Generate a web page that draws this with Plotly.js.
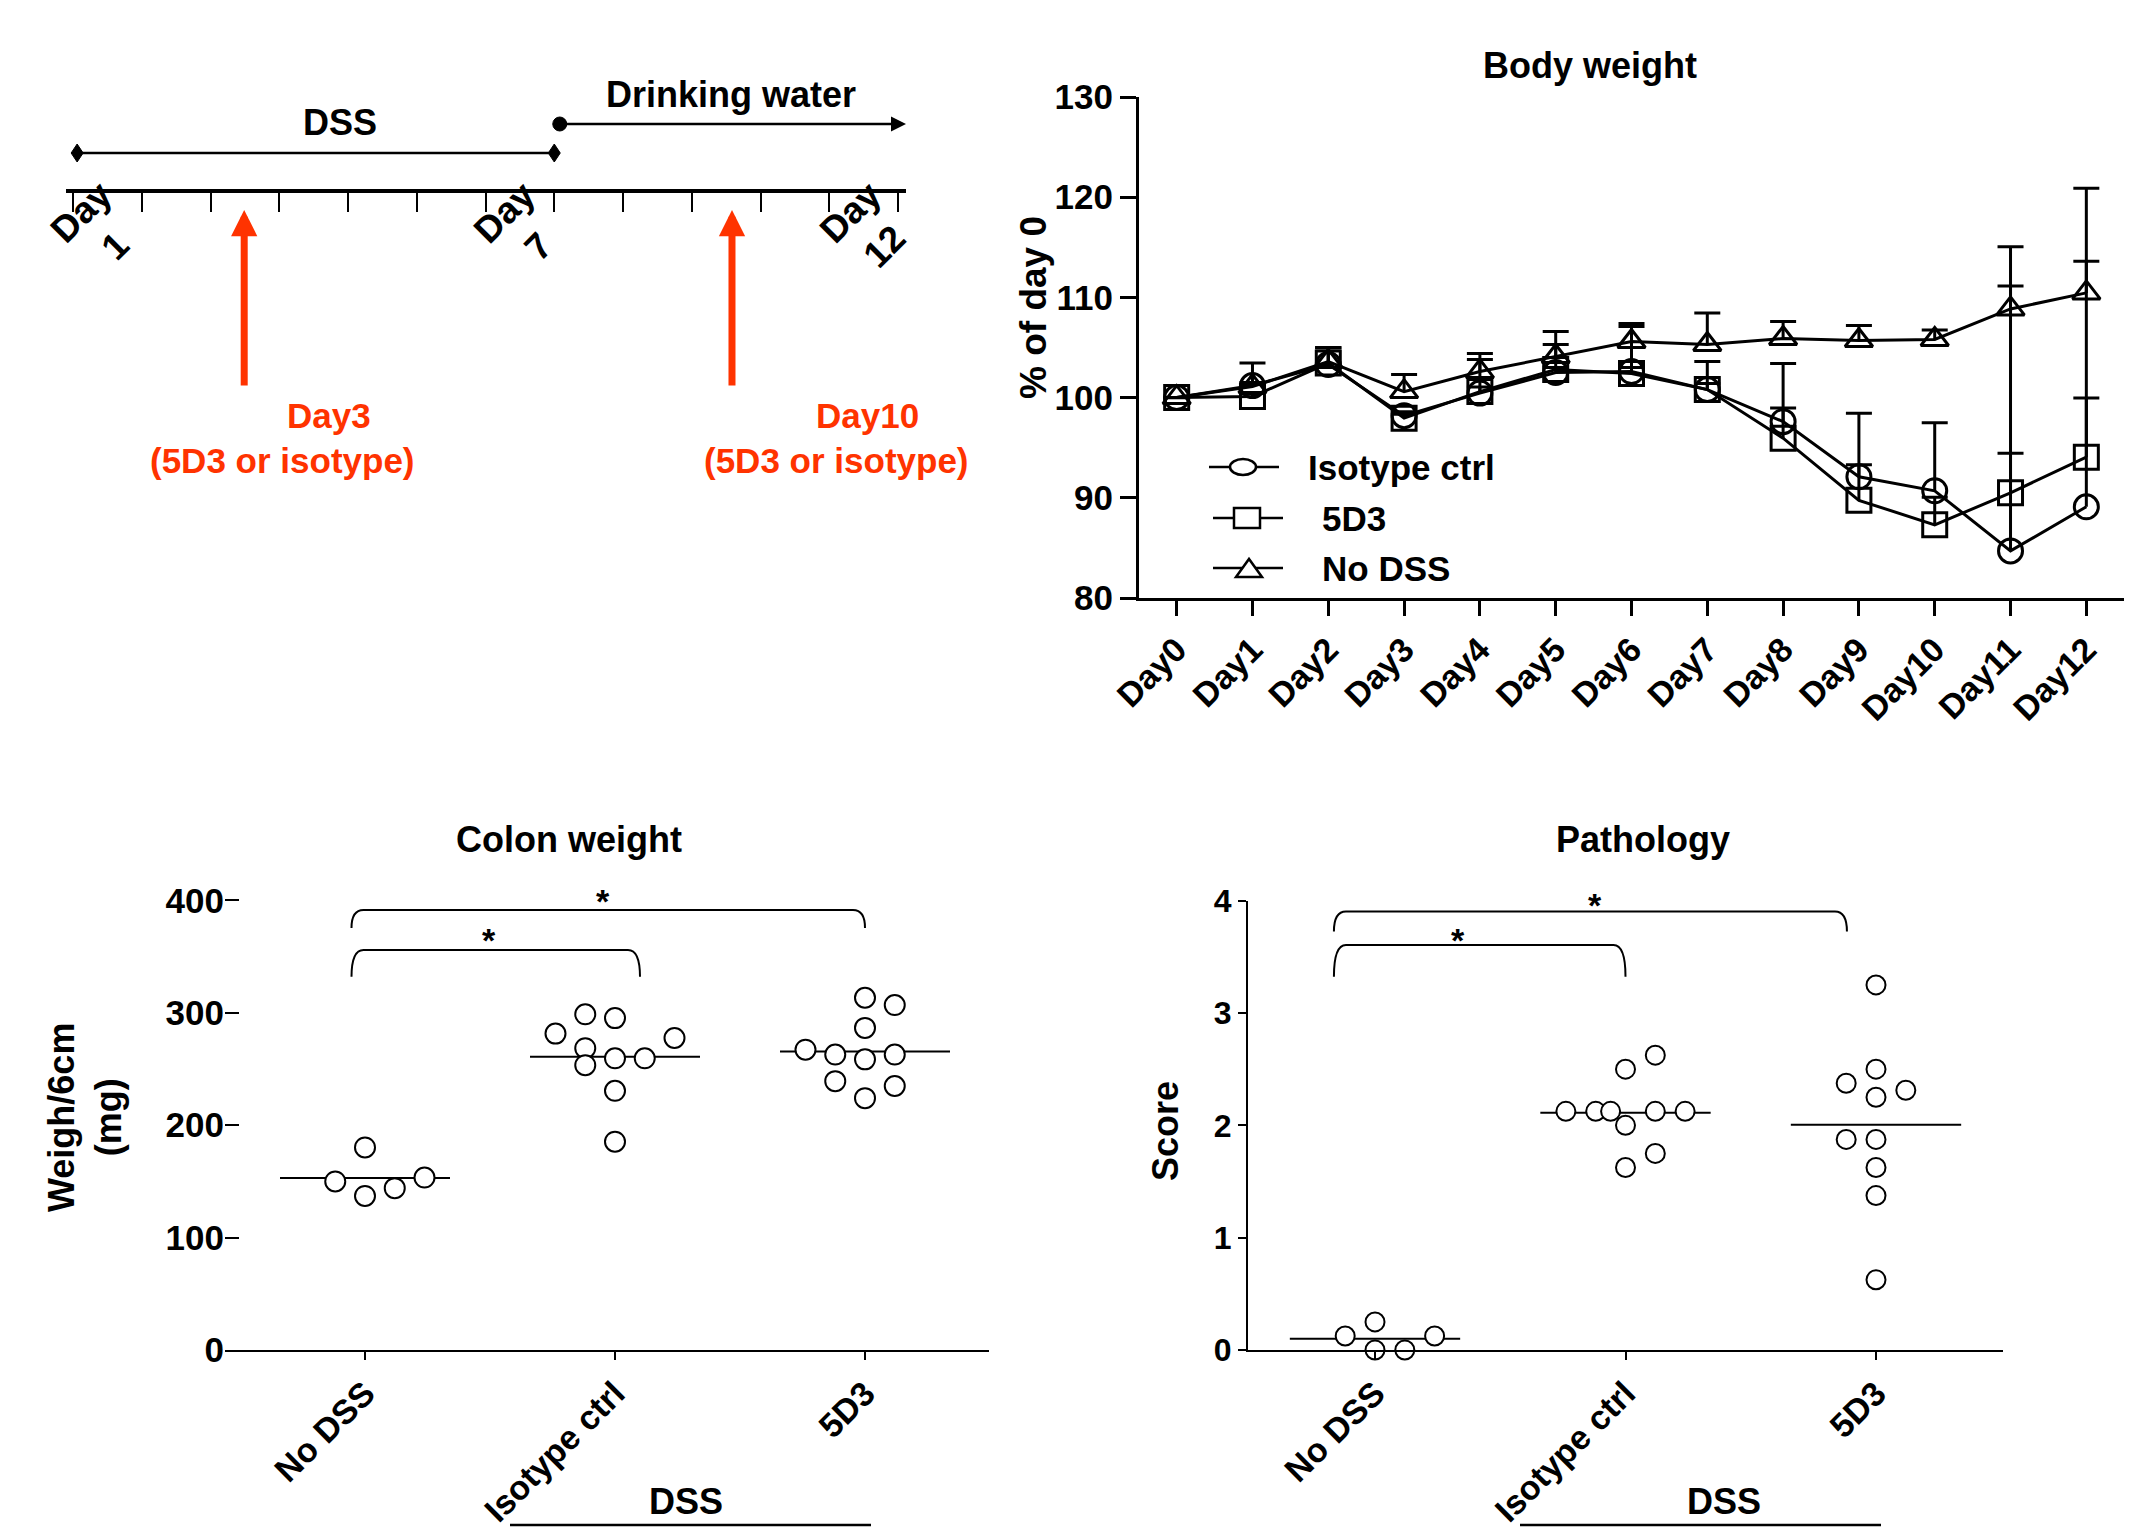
<!DOCTYPE html>
<html><head><meta charset="utf-8">
<script src="https://cdn.plot.ly/plotly-3.0.1.min.js"></script>
<style>html,body{margin:0;padding:0;background:#fff}#chart{width:2149px;height:1537px}</style>
</head><body><div id="chart"></div>
<script>
// ================= DATA =================
// Body weight (% of day 0), mean and upper error
const days = ['Day0','Day1','Day2','Day3','Day4','Day5','Day6','Day7','Day8','Day9','Day10','Day11','Day12'];
const bwIsotype    = [100, 101.2, 103.3, 98.2, 100.45, 102.5, 102.6, 100.8, 97.6, 92.1, 90.7, 84.7, 89.1];
const bwIsotypeErr = [NaN, 2.25, 1.7, 0.4, 0.6, 0.5, 4.5, 2.8, 5.8, 6.35, 6.8, 30.35, 31.8];
const bw5D3        = [100, 100.1, 103.45, 97.95, 100.6, 102.8, 102.4, 100.8, 95.95, 89.75, 87.3, 90.5, 94.05];
const bw5D3Err     = [NaN, 0.3, 1.5, 0.4, 3.2, 2.5, 0.6, 0.6, 3.0, 3.55, 2.75, 3.95, 5.9];
const bwNoDss      = [100, 101.1, 103.6, 100.6, 102.6, 104.1, 105.6, 105.3, 105.9, 105.7, 105.8, 108.85, 110.45];
const bwNoDssErr   = [NaN, 0.4, 1.4, 1.7, 1.8, 2.5, 1.8, 3.15, 1.7, 1.5, 0.95, 2.3, 3.15];
const bwTicks = [80, 90, 100, 110, 120, 130];

// Scatter panels
const groups = ['No DSS', 'Isotype ctrl', '5D3'];
const colonNoDss   = [150.0, 180.2, 137.1, 144.0, 153.4];
const colonIsotype = [281.5, 298.7, 295.3, 277.6, 268.5, 259.5, 259.5, 253.4, 230.6, 185.3];
const colon5D3     = [313.4, 306.9, 286.6, 267.2, 262.9, 258.6, 262.9, 239.2, 234.9, 224.1];
const colonTicks = [0, 100, 200, 300, 400];
const pathNoDss    = [0.125, 0.25, 0, 0, 0.125];
const pathIsotype  = [2.125, 2.125, 2.125, 2.125, 2.125, 2.0, 2.5, 2.625, 1.75, 1.625];
const path5D3      = [3.25, 2.5, 2.375, 2.3125, 2.25, 1.875, 1.875, 1.625, 1.375, 0.625];
const pathTicks = [0, 1, 2, 3, 4];

// Timeline
const timelineTicks = [0,1,2,3,4,5,6,7,8,9,10,11,12];
const timelineDayLabels = ['Day<br>1', 'Day<br>7', 'Day<br>12'];
const doseLabels = ['Day3', 'Day10'];
const doseSub = '(5D3 or isotype)';

// ================= LAYOUT HELPERS =================
const W = 2149, H = 1537;
const X = p => p / W, Y = p => 1 - p / H;
const FAM = 'Liberation Sans, Arial, Helvetica, sans-serif';
const fnt = (size, color) => ({family: FAM, size: size, color: color || '#000', weight: 'bold'});
const RED = '#FF3300';

// beeswarm slots (horizontal placement only)
const SLOT = 0.119;
const colonSlots = [[-1,0,0,1,2], [-2,-1,0,2,-1,0,1,-1,0,0], [0,1,0,-2,-1,0,1,-1,1,0]];
const pathSlots  = [[-1,0,0,1,2], [-2,-1,-0.5,1,2,0,0,1,1,0], [0,0,-1,1,0,-1,0,0,0,0]];

const bwDom  = {x: [1139, 2124], y: [97, 598]},   bwXR = [-0.497, 12.497], bwYR = [80, 130];
const colDom = {x: [225, 989],   y: [899.3, 1350]}, colXR = [-0.56, 2.496], colYR = [0, 401];
const patDom = {x: [1248, 2003], y: [900.7, 1350]}, patXR = [-0.507, 2.507], patYR = [0, 4];
const tlDom  = {x: [66, 906]}, tlXR = [-0.102, 12.116];

const mapX = (d, r, v) => d.x[0] + (v - r[0]) / (r[1] - r[0]) * (d.x[1] - d.x[0]);
const mapY = (d, r, v) => d.y[1] - (v - r[0]) / (r[1] - r[0]) * (d.y[1] - d.y[0]);
const mean = a => a.reduce((s, v) => s + v, 0) / a.length;

// ================= TRACES =================
const traces = [];
function bwTrace(name, y, err, symbol) {
  return {
    x: days, y: y, name: name, type: 'scatter', mode: 'lines+markers',
    xaxis: 'x', yaxis: 'y', cliponaxis: false,
    line: {color: '#000', width: 3},
    marker: {symbol: symbol, size: 24, color: '#000', line: {color: '#000', width: 3}},
    error_y: {type: 'data', symmetric: false, array: err, arrayminus: err.map(() => 0),
              color: '#000', thickness: 3, width: 13},
    hoverinfo: 'x+y+name'
  };
}
traces.push(bwTrace('No DSS', bwNoDss, bwNoDssErr, 'triangle-up-open'));
traces.push(bwTrace('5D3', bw5D3, bw5D3Err, 'square-open'));
traces.push(bwTrace('Isotype ctrl', bwIsotype, bwIsotypeErr, 'circle-open'));

function scatterPanel(sets, slots, xa, ya, msize) {
  sets.forEach((vals, g) => {
    const m = mean(vals);
    traces.push({x: [g - 0.34, g + 0.34], y: [m, m], xaxis: xa, yaxis: ya, type: 'scatter',
                 mode: 'lines', line: {color: '#000', width: 2}, hoverinfo: 'y', showlegend: false});
    traces.push({x: vals.map((v, i) => g + slots[g][i] * SLOT), y: vals, xaxis: xa, yaxis: ya,
                 type: 'scatter', mode: 'markers', cliponaxis: false, name: groups[g],
                 marker: {symbol: 'circle', size: msize, color: '#fff', line: {color: '#000', width: 2}}});
  });
}
scatterPanel([colonNoDss, colonIsotype, colon5D3], colonSlots, 'x2', 'y2', 20);
scatterPanel([pathNoDss, pathIsotype, path5D3], pathSlots, 'x3', 'y3', 19);

// timeline anchor trace (no visible marks)
traces.push({x: timelineTicks, y: timelineTicks.map(() => 0), xaxis: 'x4', yaxis: 'y4',
             type: 'scatter', mode: 'none', hoverinfo: 'skip', showlegend: false});

// ================= AXES =================
const baseAx = {showgrid: false, zeroline: false, color: '#000', fixedrange: true};
const layout = {
  width: W, height: H, margin: {l: 0, r: 0, t: 0, b: 0}, autosize: false,
  paper_bgcolor: '#fff', plot_bgcolor: 'rgba(0,0,0,0)', showlegend: false,
  font: fnt(34),
  xaxis: Object.assign({}, baseAx, {domain: [X(bwDom.x[0]), X(bwDom.x[1])], range: bwXR, anchor: 'y',
    type: 'category', showline: true, linewidth: 3, ticks: 'outside', ticklen: 15, tickwidth: 3,
    tickangle: -45, tickfont: fnt(34)}),
  yaxis: Object.assign({}, baseAx, {domain: [Y(bwDom.y[1]), Y(bwDom.y[0])], range: bwYR, anchor: 'x',
    showline: true, linewidth: 3, ticks: 'outside', ticklen: 16, tickwidth: 3, tickvals: bwTicks,
    tickfont: fnt(35)}),
  xaxis2: Object.assign({}, baseAx, {domain: [X(colDom.x[0]), X(colDom.x[1])], range: colXR, anchor: 'y2',
    showline: true, linewidth: 2, ticks: 'outside', ticklen: 8, tickwidth: 2,
    tickvals: [0, 1, 2], ticktext: groups, tickangle: -45, tickfont: fnt(34)}),
  yaxis2: Object.assign({}, baseAx, {domain: [Y(colDom.y[1]), Y(colDom.y[0])], range: colYR, anchor: 'x2',
    showline: false, ticks: 'inside', ticklen: 14, tickwidth: 2, tickvals: colonTicks, tickfont: fnt(35)}),
  xaxis3: Object.assign({}, baseAx, {domain: [X(patDom.x[0]), X(patDom.x[1])], range: patXR, anchor: 'y3',
    showline: true, linewidth: 2, ticks: 'outside', ticklen: 8, tickwidth: 2,
    tickvals: [0, 1, 2], ticktext: groups, tickangle: -45, tickfont: fnt(34)}),
  yaxis3: Object.assign({}, baseAx, {domain: [Y(patDom.y[1]), Y(patDom.y[0])], range: patYR, anchor: 'x3',
    showline: true, linewidth: 2, ticks: 'outside', ticklen: 8, tickwidth: 2, tickvals: pathTicks,
    tickfont: fnt(32)}),
  xaxis4: Object.assign({}, baseAx, {domain: [X(tlDom.x[0]), X(tlDom.x[1])], range: tlXR, anchor: 'y4',
    showline: true, linewidth: 4, ticks: 'outside', ticklen: 19, tickwidth: 2, tickvals: timelineTicks,
    showticklabels: false}),
  yaxis4: Object.assign({}, baseAx, {domain: [Y(189), Y(100)], anchor: 'x4', visible: false, range: [-1, 1]}),
  shapes: [], annotations: []
};
const S = layout.shapes, A = layout.annotations;
const ann = (o) => A.push(Object.assign({showarrow: false, xref: 'paper', yref: 'paper',
                                          xanchor: 'center', yanchor: 'middle', font: fnt(36)}, o));

// ================= TIMELINE =================
const dssPeriod = [0.06, 7.0], waterPeriod = [7.08, 12.116], doseTimes = [2.49, 9.585];
S.push({type: 'line', xref: 'x4', yref: 'paper', x0: dssPeriod[0], x1: dssPeriod[1], y0: Y(153), y1: Y(153),
        line: {color: '#000', width: 2.5}});
dssPeriod.forEach(t => S.push({type: 'path', xref: 'x4', yref: 'paper', xsizemode: 'pixel', ysizemode: 'pixel',
        xanchor: t, yanchor: Y(153), path: 'M-6,0 L0,9 L6,0 L0,-9 Z', fillcolor: '#000', line: {color: '#000', width: 1}}));
S.push({type: 'circle', xref: 'x4', yref: 'paper', xsizemode: 'pixel', ysizemode: 'pixel',
        xanchor: waterPeriod[0], yanchor: Y(124), x0: -7, x1: 7, y0: -7, y1: 7, fillcolor: '#000', line: {color: '#000', width: 1}});
A.push({xref: 'x4', yref: 'paper', x: waterPeriod[1], y: Y(124), axref: 'x4', ayref: 'paper',
        ax: waterPeriod[0], ay: Y(124), text: '', showarrow: true, arrowhead: 2, arrowwidth: 2.5,
        arrowsize: 1.2, arrowcolor: '#000', standoff: 0, startstandoff: 0});
doseTimes.forEach(t => A.push({xref: 'x4', yref: 'paper', x: t, y: Y(210), axref: 'x4', ayref: 'paper',
        ax: t, ay: Y(387), text: '', showarrow: true, arrowhead: 2, arrowwidth: 7, arrowsize: 0.75,
        arrowcolor: RED, standoff: 0, startstandoff: 0}));
ann({x: X(340), y: Y(122), text: 'DSS'});
ann({x: X(731), y: Y(95), text: 'Drinking water'});
const dayLabelPos = [0.36, 6.52, 11.55];
timelineDayLabels.forEach((t, i) => ann({xref: 'x4', x: dayLabelPos[i], y: Y(229), text: t,
        textangle: -45, font: fnt(37)}));
ann({x: X(329), y: Y(415), text: doseLabels[0], font: fnt(35, RED)});
ann({x: X(282), y: Y(461), text: doseSub, font: fnt(35, RED)});
ann({x: X(867), y: Y(415), text: doseLabels[1], font: fnt(35, RED)});
ann({x: X(836), y: Y(461), text: doseSub, font: fnt(35, RED)});

// ================= BODY WEIGHT TEXT & LEGEND =================
ann({x: X(1590), y: Y(66), text: 'Body weight'});
ann({x: X(1033), y: Y(308), text: '% of day 0', textangle: -90, font: fnt(37)});
const legRows = [
  {name: 'Isotype ctrl', y: 467, lx: [1209, 1279], mx: 1243, tx: 1306, kind: 'circle'},
  {name: '5D3',          y: 518, lx: [1213, 1283], mx: 1247, tx: 1320, kind: 'square'},
  {name: 'No DSS',       y: 568, lx: [1213, 1283], mx: 1249, tx: 1320, kind: 'triangle'}
];
legRows.forEach(r => {
  S.push({type: 'line', xref: 'paper', yref: 'paper', x0: X(r.lx[0]), x1: X(r.lx[1]), y0: Y(r.y), y1: Y(r.y),
          line: {color: '#000', width: 2.5}});
  const base = {xref: 'paper', yref: 'paper', xsizemode: 'pixel', ysizemode: 'pixel', xanchor: X(r.mx),
                yanchor: Y(r.y), fillcolor: '#fff', line: {color: '#000', width: 2.5}};
  if (r.kind === 'circle') S.push(Object.assign({type: 'circle', x0: -13, x1: 13, y0: -8, y1: 8}, base));
  if (r.kind === 'square') S.push(Object.assign({type: 'rect', x0: -13, x1: 13, y0: -10, y1: 10}, base));
  if (r.kind === 'triangle') S.push(Object.assign({type: 'path', path: 'M-13,-9 L13,-9 L0,9 Z'}, base));
  ann({x: X(r.tx), y: Y(r.y), xanchor: 'left', text: r.name, font: fnt(35)});
});

// ================= SCATTER PANEL TEXT, BRACKETS =================
ann({x: X(569), y: Y(839), text: 'Colon weight'});
ann({x: X(1643), y: Y(839), text: 'Pathology'});
ann({x: X(85), y: Y(1118), text: 'Weigh/6cm<br>(mg)', textangle: -90});
ann({x: X(1165), y: Y(1131), text: 'Score', textangle: -90});
[[686, 510, 871], [1724, 1520, 1881]].forEach(g => {
  ann({x: X(g[0]), y: Y(1501), text: 'DSS'});
  S.push({type: 'line', xref: 'paper', yref: 'paper', x0: X(g[1]), x1: X(g[2]), y0: Y(1525), y1: Y(1525),
          line: {color: '#000', width: 2.5}});
});

function bracket(d, xr, yr, b) {
  const x0 = mapX(d, xr, b.x0), x1 = mapX(d, xr, b.x1);
  const yt = mapY(d, yr, b.top), yf = mapY(d, yr, b.foot), dx = 12;
  const P = (px, py) => X(px) + ',' + Y(py);
  S.push({type: 'path', xref: 'paper', yref: 'paper', line: {color: '#000', width: 2},
          path: 'M' + P(x0, yf) + ' Q' + P(x0, yt) + ' ' + P(x0 + dx, yt) + ' L' + P(x1 - dx, yt) +
                ' Q' + P(x1, yt) + ' ' + P(x1, yf)});
  ann({x: X(mapX(d, xr, b.sx)), y: Y(mapY(d, yr, b.sy) + 9), text: '*', font: fnt(34)});
}
[{x0: -0.054, x1: 1.10, top: 356, foot: 332, sx: 0.496, sy: 373.2},
 {x0: -0.054, x1: 2.0, top: 391.5, foot: 375.5, sx: 0.952, sy: 407.5}].forEach(b => bracket(colDom, colXR, colYR, b));
[{x0: -0.164, x1: 1.0, top: 3.606, foot: 3.324, sx: 0.331, sy: 3.73},
 {x0: -0.164, x1: 1.884, top: 3.903, foot: 3.725, sx: 0.878, sy: 4.043}].forEach(b => bracket(patDom, patXR, patYR, b));

Plotly.newPlot('chart', traces, layout, {staticPlot: true}).then(gd => {
  // GraphPad-style upper-only error bars: drop the lower cap
  gd.querySelectorAll('path.yerror').forEach(p => {
    const d = p.getAttribute('d') || '';
    const v = d.indexOf('V');
    const m = v >= 0 ? d.indexOf('m', v) : -1;
    if (m > 0) p.setAttribute('d', d.slice(0, m));
  });
});
</script>
</body></html>
